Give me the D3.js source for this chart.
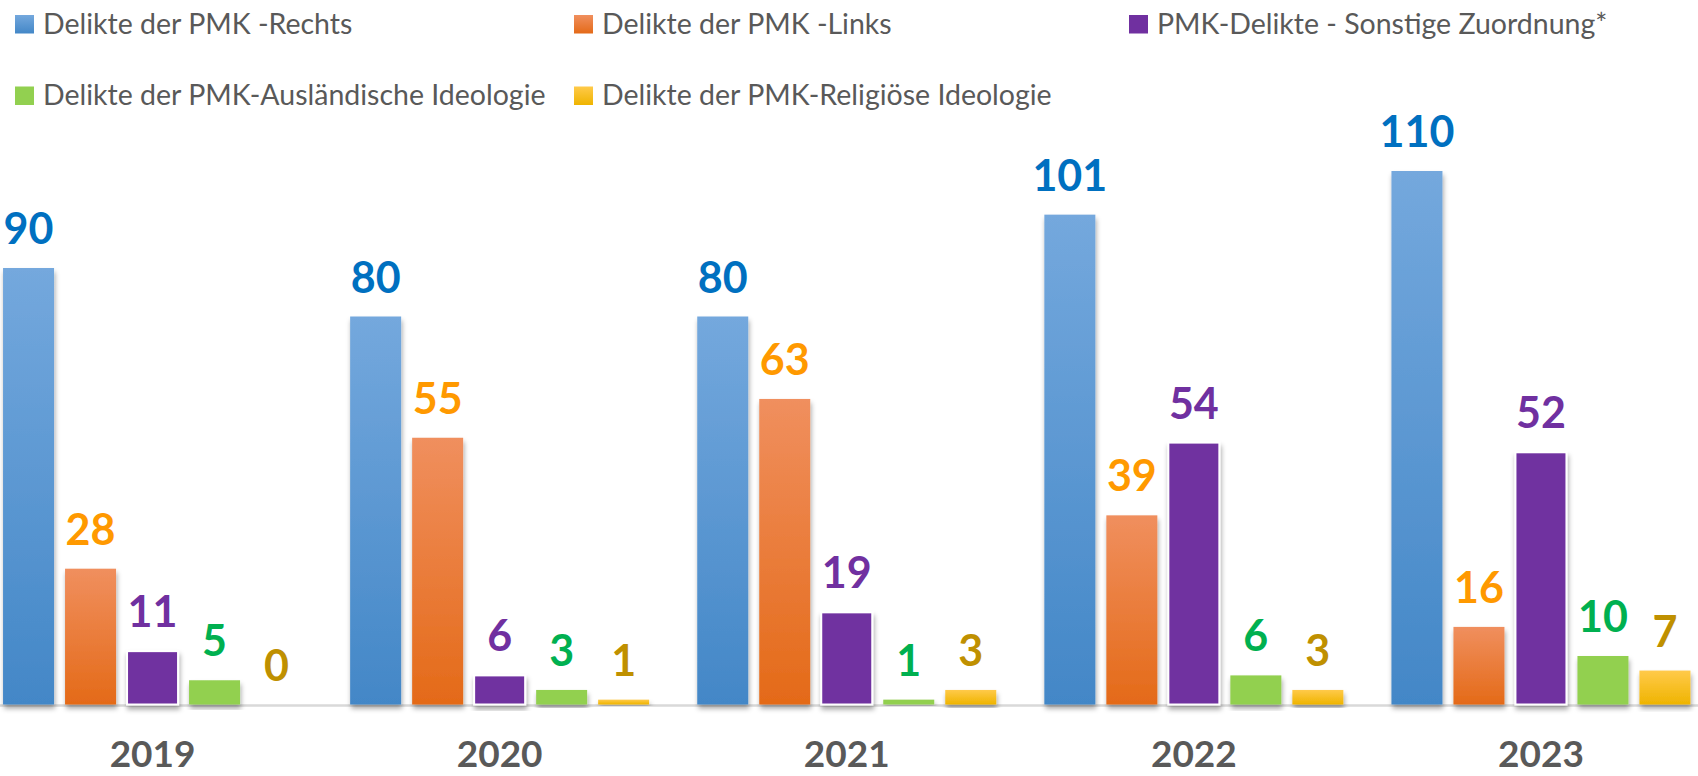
<!DOCTYPE html>
<html>
<head>
<meta charset="utf-8">
<script src="https://cdn.jsdelivr.net/npm/d3@7"></script>
<style>
  body { margin: 0; background: #fff; }
  svg { display: block; }
</style>
</head>
<body>
<div id="chart"></div>
<script>
// data
var years = ["2019", "2020", "2021", "2022", "2023"];
var seriesNames = [
  "Delikte der PMK -Rechts",
  "Delikte der PMK -Links",
  "PMK-Delikte - Sonstige Zuordnung*",
  "Delikte der PMK-Ausländische Ideologie",
  "Delikte der PMK-Religiöse Ideologie"
];
var rechts    = [90, 80, 80, 101, 110];
var links     = [28, 55, 63, 39, 16];
var sonstige  = [11, 6, 19, 54, 52];
var auslaend  = [5, 3, 1, 6, 10];
var religioes = [0, 1, 3, 3, 7];
var seriesValues = [rechts, links, sonstige, auslaend, religioes];

var W = 1698, H = 776,
    baseY = 704.5,
    topY = 122.5,
    font = "Lato, 'Open Sans', sans-serif";

// fill: [top colour, bottom colour], label colour
var fills = [
  ["#74a8dd", "#4387c7"],
  ["#f08f5e", "#e46a18"],
  ["#7030a0", "#7030a0"],
  ["#92d050", "#92d050"],
  ["#ffca4a", "#efb400"]
];
var labelColors = ["#0070c0", "#ff9900", "#7030a0", "#00b050", "#bf9000"];

var svg = d3.select("#chart").append("svg")
    .attr("width", W)
    .attr("height", H);

var defs = svg.append("defs");
fills.forEach(function(f, i) {
  var g = defs.append("linearGradient")
      .attr("id", "grad" + i)
      .attr("x1", 0).attr("y1", 0).attr("x2", 0).attr("y2", 1);
  g.append("stop").attr("offset", "0%").attr("stop-color", f[0]);
  g.append("stop").attr("offset", "100%").attr("stop-color", f[1]);
});
var shadow = defs.append("filter")
    .attr("id", "shadow")
    .attr("x", "-20%").attr("y", "-10%")
    .attr("width", "140%").attr("height", "130%");
shadow.append("feDropShadow")
    .attr("dx", 1).attr("dy", 4)
    .attr("stdDeviation", 2.5)
    .attr("flood-color", "#000")
    .attr("flood-opacity", 0.35);

var x0 = d3.scaleBand()
    .domain(years)
    .range([-21, 1714.5]);

var x1 = d3.scaleBand()
    .domain(d3.range(seriesNames.length))
    .range([0, 299])
    .paddingInner(11 / 62);

var y = d3.scaleLinear()
    .domain([0, 120])
    .range([baseY, topY]);

/* baseline */
svg.append("line")
    .attr("x1", 0).attr("x2", W)
    .attr("y1", baseY + 1).attr("y2", baseY + 1)
    .style("stroke", "#d9d9d9")
    .style("stroke-width", 2.5);

var rows = [];
years.forEach(function(yr, j) {
  seriesValues.forEach(function(vals, i) {
    rows.push({ year: yr, s: i, v: vals[j] });
  });
});

function barX(d) {
  return x0(d.year) + x0.bandwidth() / 2 - 149.5 + x1(d.s);
}

svg.selectAll(".bar")
  .data(rows.filter(function(d) { return d.v > 0; }))
  .enter().append("rect")
  .attr("class", "bar")
  .attr("x", barX)
  .attr("y", function(d) { return y(d.v); })
  .attr("width", x1.bandwidth())
  .attr("height", function(d) { return baseY - y(d.v); })
  .style("fill", function(d) { return "url(#grad" + d.s + ")"; })
  .style("stroke", function(d) { return d.s == 2 ? "#fff" : "none"; })
  .style("stroke-width", 2)
  .attr("filter", "url(#shadow)");

/* value labels */
svg.selectAll(".vlabel")
  .data(rows)
  .enter().append("text")
  .attr("class", "vlabel")
  .attr("x", function(d) { return barX(d) + x1.bandwidth() / 2; })
  .attr("y", function(d) { return y(d.v) - 24; })
  .attr("text-anchor", "middle")
  .style("font", "bold 43px " + font)
  .style("fill", function(d) { return labelColors[d.s]; })
  .text(function(d) { return d.v; });

/* category labels */
svg.selectAll(".xlabel")
  .data(years)
  .enter().append("text")
  .attr("class", "xlabel")
  .attr("x", function(d) { return x0(d) + x0.bandwidth() / 2; })
  .attr("y", 767)
  .attr("text-anchor", "middle")
  .style("font", "bold 37px " + font)
  .style("fill", "#595959")
  .text(function(d) { return d; });

/* legend */
var legendPos = [[15, 33.5], [574, 33.5], [1129, 33.5], [15, 105], [574, 105]];
var legend = svg.selectAll(".legend")
  .data(seriesNames)
  .enter().append("g")
  .attr("class", "legend")
  .attr("transform", function(d, i) {
    return "translate(" + legendPos[i][0] + "," + legendPos[i][1] + ")";
  });

legend.append("rect")
  .attr("x", 0).attr("y", -18.5)
  .attr("width", 19).attr("height", 18.5)
  .style("fill", function(d, i) { return "url(#grad" + i + ")"; });

legend.append("text")
  .attr("x", 28)
  .attr("y", 0)
  .style("font", "28.5px " + font)
  .style("fill", "#595959")
  .text(function(d) { return d; });
</script>
</body>
</html>
